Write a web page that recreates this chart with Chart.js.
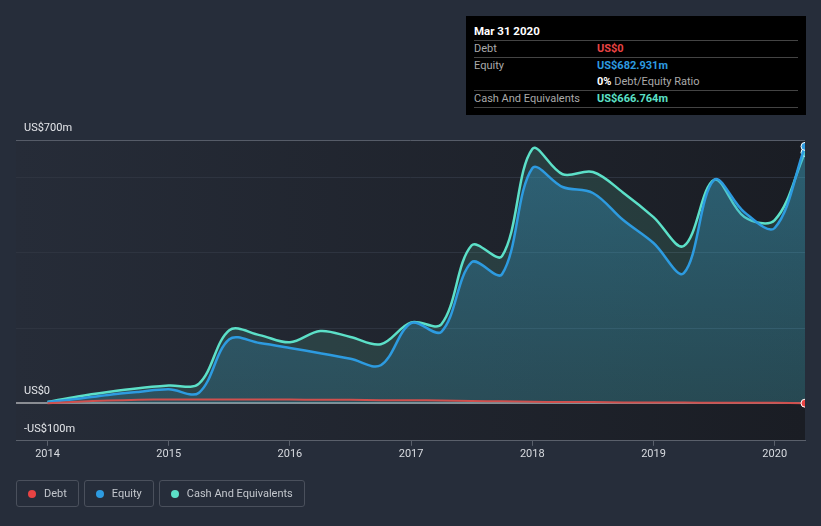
<!DOCTYPE html>
<html>
<head>
<meta charset="utf-8">
<script src="https://cdn.jsdelivr.net/npm/chart.js@4/dist/chart.umd.min.js"></script>
<style>
  html, body { margin: 0; padding: 0; background: #262d3a; font-family: Roboto, "Noto Sans", sans-serif; }
  #wrap { position: relative; width: 821px; height: 526px; overflow: hidden; }
  #chart { position: absolute; left: 0; top: 0; }
  .tip { position: absolute; left: 466px; top: 16px; width: 340px; height: 99px; background: #000; color: #aaa; font-size: 11px; }
  .tip .t { position: absolute; left: 8px; top: 8px; color: #fff; font-weight: bold; font-size: 11.5px; }
  .tip .hr { position: absolute; left: 8px; width: 324px; height: 1px; background: #444; }
  .tip .r { position: absolute; left: 8px; }
  .tip .v { position: absolute; left: 131px; font-weight: bold; }
  .legend { position: absolute; top: 480px; left: 16px; display: flex; gap: 5px; }
  .legend div { border: 1px solid #4a505c; border-radius: 3px; height: 25px; padding: 0 11px 0 11px; display: flex; align-items: center; color: #c3c7cd; font-size: 11px; }
  .legend span { width: 8px; height: 8px; border-radius: 50%; display: inline-block; margin-right: 8px; }
</style>
</head>
<body>
<div id="wrap">
  <canvas id="chart" width="821" height="526"></canvas>
  <div class="tip">
    <div class="t">Mar 31 2020</div>
    <div class="hr" style="top:24px"></div>
    <div class="r" style="top:26px">Debt</div><div class="v" style="top:26px;color:#e84343">US$0</div>
    <div class="hr" style="top:41px"></div>
    <div class="r" style="top:43px">Equity</div><div class="v" style="top:43px;color:#2d9be0">US$682.931m</div>
    <div class="v" style="top:59px;color:#fff">0% <span style="color:#aaa;font-weight:normal">Debt/Equity Ratio</span></div>
    <div class="hr" style="top:74px"></div>
    <div class="r" style="top:76px">Cash And Equivalents</div><div class="v" style="top:76px;color:#5ce0c8">US$666.764m</div>
    <div class="hr" style="top:91px"></div>
  </div>
  <div class="legend">
    <div><span style="background:#e84343"></span>Debt</div>
    <div><span style="background:#2d9be0"></span>Equity</div>
    <div><span style="background:#5ce0c8"></span>Cash And Equivalents</div>
  </div>
</div>
<script>
// quarterly dates, 2014 Q1 .. 2020 Q1 (Mar 31 2020)
const years = [2014, 2014.25, 2014.5, 2014.75, 2015, 2015.25, 2015.5, 2015.75,
  2016, 2016.25, 2016.5, 2016.75, 2017, 2017.25, 2017.5, 2017.75,
  2018, 2018.25, 2018.5, 2018.75, 2019, 2019.25, 2019.5, 2019.75, 2020, 2020.25];
// values in US$ millions
const debt = [0, 4, 7, 9, 10, 10, 10, 10, 10, 9, 9, 8, 8, 7, 6, 5,
  4, 3, 3, 2, 2, 2, 1, 1, 1, 0];
const equity = [3, 12, 22, 30, 37, 28, 170, 160, 147, 133, 118, 101, 213, 190, 375, 343,
  625, 575, 559, 487, 426, 346, 594, 508, 466, 682.931];
const cash = [3, 18, 30, 40, 47, 52, 194, 181, 162, 192, 176, 157, 215, 210, 420, 391,
  676, 609, 615, 560, 495, 418, 594, 495, 487, 666.764];
const yTicks = [-100, 0, 200, 400, 600, 700];
const yLabels = { '-100': '-US$100m', '0': 'US$0', '700': 'US$700m' };

const pts = arr => arr.map((v, i) => ({ x: years[i], y: v }));
const lastOnly = r => ctx => ctx.dataIndex === years.length - 1 ? r : 0;

const plotBg = {
  id: 'plotBg',
  beforeDraw(chart) {
    const { ctx, chartArea: a } = chart;
    const g = ctx.createLinearGradient(a.left, 0, a.right, 0);
    g.addColorStop(0, '#262c38');
    g.addColorStop(1, '#1a1d24');
    ctx.save();
    ctx.fillStyle = g;
    ctx.fillRect(a.left, a.top, a.right - a.left, a.bottom - a.top);
    ctx.restore();
  }
};

const ctx = document.getElementById('chart').getContext('2d');
new Chart(ctx, {
  type: 'line',
  data: {
    datasets: [
      {
        label: 'Debt', data: pts(debt), borderColor: '#d0504e', borderWidth: 2,
        backgroundColor: '#e84343', fill: false, tension: 0.35,
        pointRadius: lastOnly(4), pointBorderColor: '#fff', pointBorderWidth: 1, clip: 0
      },
      {
        label: 'Equity', data: pts(equity), borderColor: '#2d9be0', borderWidth: 2.5,
        pointBackgroundColor: '#2d9be0',
        backgroundColor: c => {
          const a = c.chart.chartArea;
          if (!a) return 'rgba(45,155,224,0.25)';
          const g = c.chart.ctx.createLinearGradient(0, a.top, 0, a.bottom);
          g.addColorStop(0, 'rgba(55,160,210,0.38)');
          g.addColorStop(1, 'rgba(45,140,190,0.15)');
          return g;
        },
        fill: 'origin', tension: 0.35,
        pointRadius: lastOnly(4), pointBorderColor: '#fff', pointBorderWidth: 1, clip: 0
      },
      {
        label: 'Cash And Equivalents', data: pts(cash), borderColor: '#5ce0c8', borderWidth: 2.5,
        pointBackgroundColor: '#5ce0c8',
        backgroundColor: 'rgba(90,190,160,0.18)', fill: 'origin', tension: 0.35,
        pointRadius: lastOnly(4), pointBorderColor: '#fff', pointBorderWidth: 1, clip: 0
      }
    ]
  },
  options: {
    responsive: false,
    animation: false,
    layout: { padding: { left: 0, right: 16, top: 140, bottom: 63 } },
    plugins: { legend: { display: false }, tooltip: { enabled: false } },
    scales: {
      x: {
        type: 'linear', min: 2013.74, max: 2020.25,
        afterBuildTicks: s => { s.ticks = [2014, 2015, 2016, 2017, 2018, 2019, 2020].map(v => ({ value: v })); },
        grid: { drawOnChartArea: false, drawTicks: true, tickLength: 5, color: '#5a606b' },
        border: { display: true, color: '#5a606b', width: 1 },
        ticks: { color: '#d8dbe0', font: { family: 'Roboto', size: 11 }, padding: 2, maxRotation: 0, callback: v => String(v) }
      },
      y: {
        min: -100, max: 700,
        afterBuildTicks: s => { s.ticks = yTicks.map(v => ({ value: v })); },
        grid: {
          drawTicks: false,
          color: c => c.tick.value === 0 ? '#8a8d93' : c.tick.value === 700 ? '#565c68' : c.tick.value === -100 ? 'rgba(0,0,0,0)' : '#2e3440',
          lineWidth: c => c.tick.value === 0 ? 2 : 1
        },
        border: { display: false },
        ticks: {
          mirror: true, padding: 8, labelOffset: -12,
          color: '#e4e6ea', font: { family: 'Roboto', size: 11 },
          callback: v => yLabels[String(v)] || ''
        }
      }
    }
  },
  plugins: [plotBg]
});
</script>
</body>
</html>
